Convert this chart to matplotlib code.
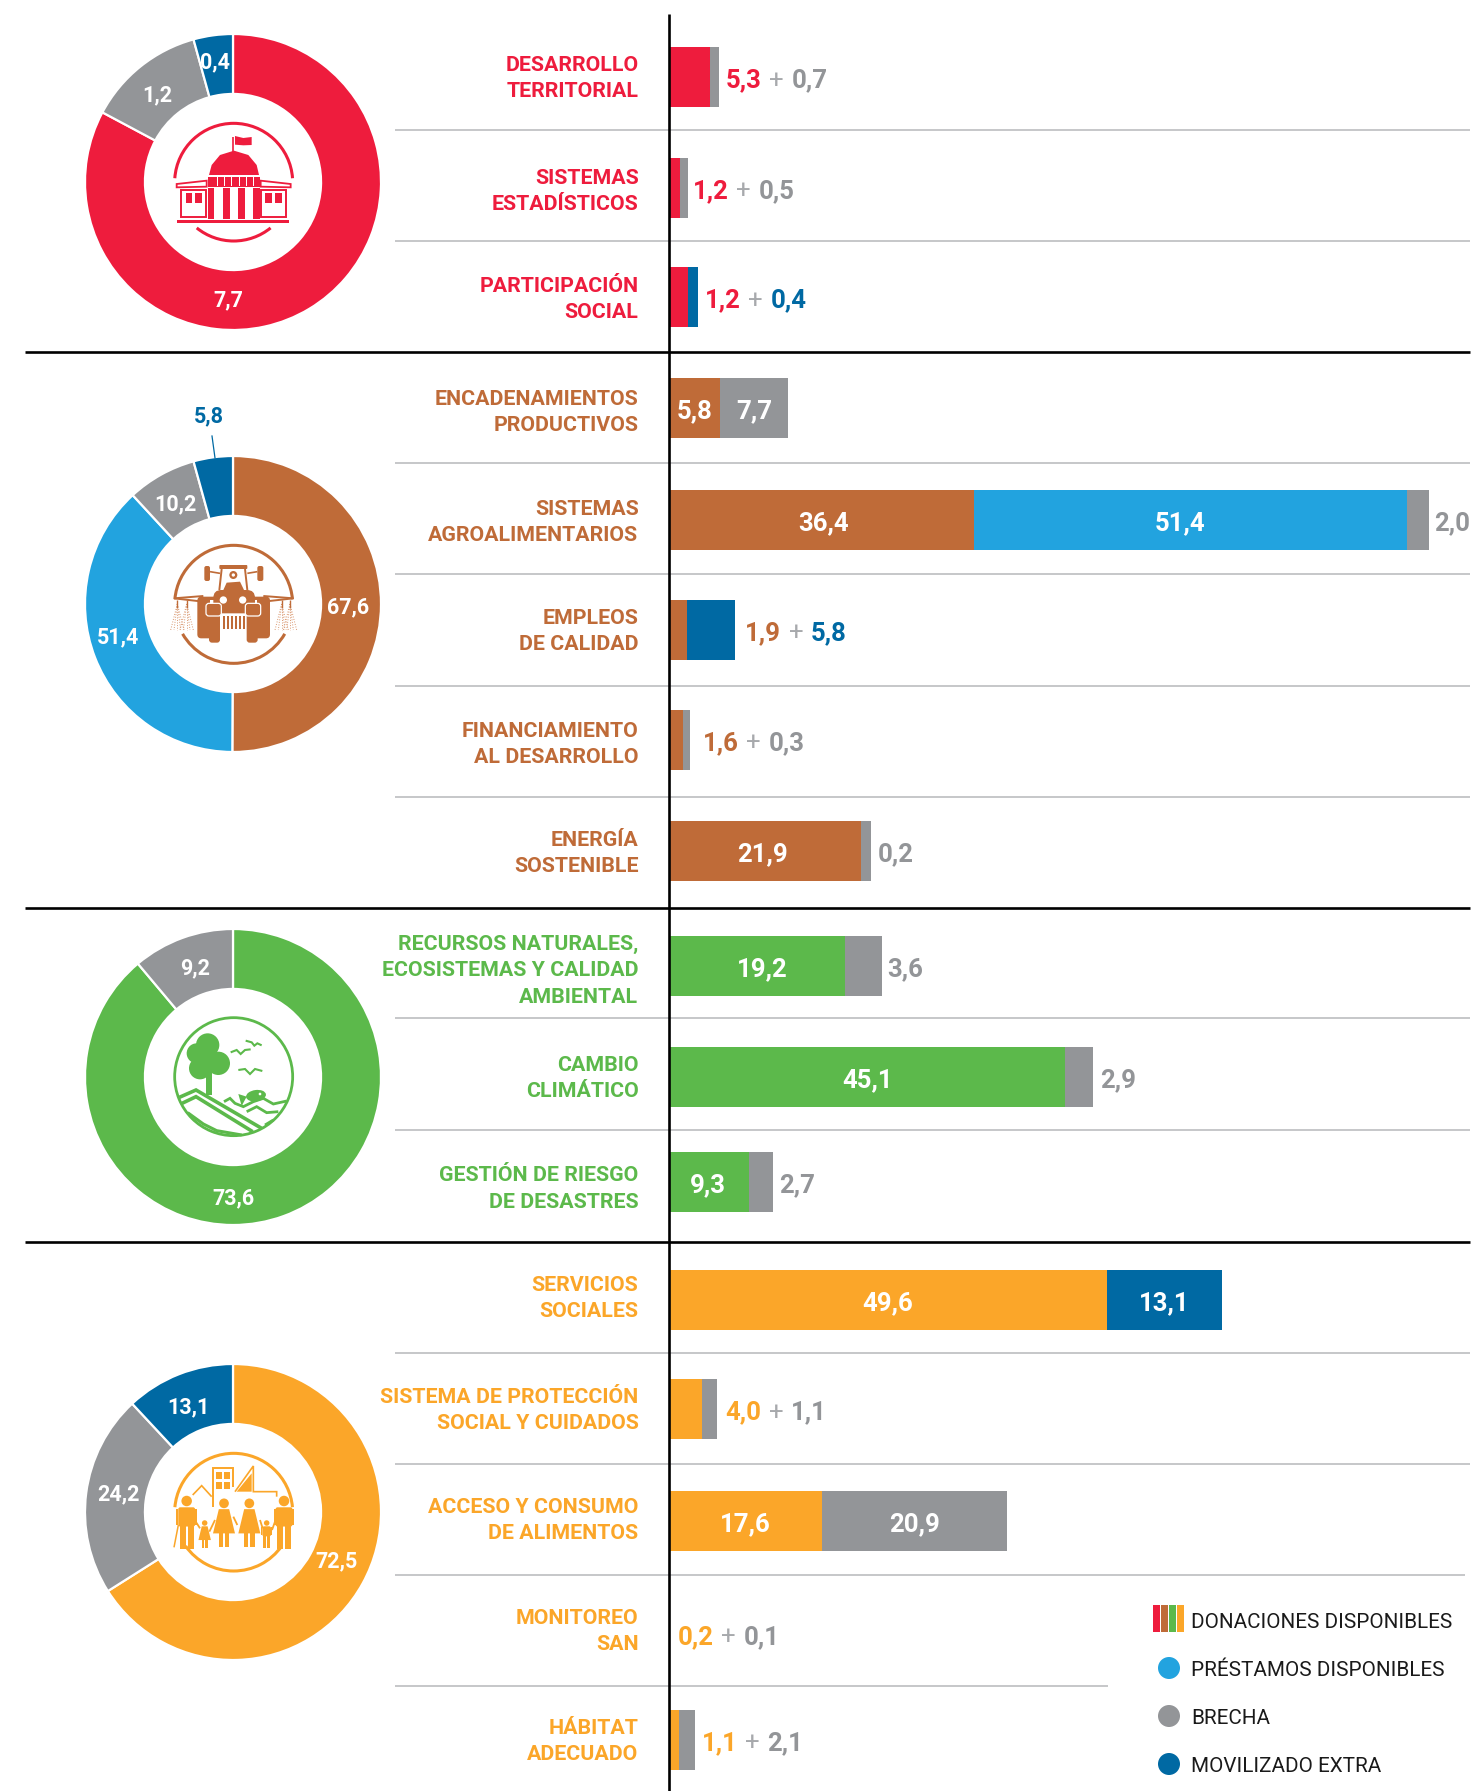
import matplotlib
matplotlib.use('Agg')
import matplotlib.pyplot as plt
from matplotlib.patches import Arc, Circle, Ellipse, FancyBboxPatch, Polygon, Rectangle

plt.rcParams['font.family'] = ['Roboto', 'DejaVu Sans']

RED = '#EE1C3D'
BROWN = '#BF6B38'
GREEN = '#5CB94B'
ORANGE = '#FBA629'
SKY = '#22A3DF'
GRAY = '#939598'
NAVY = '#0069A3'
PLUS = '#A7A9AC'
RULE = '#BCBEC0'

# donuts
donut_values = [
    [7.7, 1.2, 0.4],
    [67.6, 51.4, 10.2, 5.8],
    [73.6, 9.2],
    [72.5, 24.2, 13.1],
]
donut_colors = [
    [RED, GRAY, NAVY],
    [BROWN, SKY, GRAY, NAVY],
    [GREEN, GRAY],
    [ORANGE, GRAY, NAVY],
]
donut_texts = [
    ['7,7', '1,2', '0,4'],
    ['67,6', '51,4', '10,2', '5,8'],
    ['73,6', '9,2'],
    ['72,5', '24,2', '13,1'],
]
donut_text_pos = [
    [(228, 299), (157, 94), (215, 61)],
    [(348, 606), (118, 636), (175, 503), (209, 415)],
    [(233, 1197), (195, 967)],
    [(337, 1560), (118, 1493), (188, 1406)],
]
donut_cy = [182, 604, 1077, 1512]
donut_cx = 233
donut_r = 148

# rows of the bar panel
categories = [
    ['DESARROLLO', 'TERRITORIAL'],
    ['SISTEMAS', 'ESTADÍSTICOS'],
    ['PARTICIPACIÓN', 'SOCIAL'],
    ['ENCADENAMIENTOS', 'PRODUCTIVOS'],
    ['SISTEMAS', 'AGROALIMENTARIOS'],
    ['EMPLEOS', 'DE CALIDAD'],
    ['FINANCIAMIENTO', 'AL DESARROLLO'],
    ['ENERGÍA', 'SOSTENIBLE'],
    ['RECURSOS NATURALES,', 'ECOSISTEMAS Y CALIDAD', 'AMBIENTAL'],
    ['CAMBIO', 'CLIMÁTICO'],
    ['GESTIÓN DE RIESGO', 'DE DESASTRES'],
    ['SERVICIOS', 'SOCIALES'],
    ['SISTEMA DE PROTECCIÓN', 'SOCIAL Y CUIDADOS'],
    ['ACCESO Y CONSUMO', 'DE ALIMENTOS'],
    ['MONITOREO', 'SAN'],
    ['HÁBITAT', 'ADECUADO'],
]
row_colors = [RED] * 3 + [BROWN] * 5 + [GREEN] * 3 + [ORANGE] * 5

# bar lengths as drawn in the reference; very small parts are drawn wider than their number
donaciones = [4.9, 1.3, 2.3, 6.1, 36.3, 2.1, 1.7, 22.9, 21.0, 47.2, 9.5, 52.2, 3.9, 18.2, 0, 1.2]
prestamos = [0, 0, 0, 0, 51.6, 0, 0, 0, 0, 0, 0, 0, 0, 0, 0, 0]
brecha = [1.1, 1.0, 0, 8.1, 2.6, 0, 0.83, 1.2, 4.4, 3.3, 2.9, 0, 1.8, 22.0, 0, 1.9]
extra = [0, 0, 1.15, 0, 0, 5.7, 0, 0, 0, 0, 0, 13.6, 0, 0, 0, 0]

# printed numbers
don_text = ['5,3', '1,2', '1,2', '5,8', '36,4', '1,9', '1,6', '21,9', '19,2', '45,1', '9,3', '49,6',
            '4,0', '17,6', '0,2', '1,1']
pre_text = ['', '', '', '', '51,4', '', '', '', '', '', '', '', '', '', '', '']
bre_text = ['0,7', '0,5', '', '7,7', '2,0', '', '0,3', '0,2', '3,6', '2,9', '2,7', '', '1,1', '20,9', '0,1', '2,1']
ext_text = ['', '', '0,4', '', '', '5,8', '', '', '', '', '', '13,1', '', '', '', '']
pair_rows = [0, 1, 2, 5, 6, 12, 14, 15]

legend_labels = ['DONACIONES DISPONIBLES', 'PRÉSTAMOS DISPONIBLES', 'BRECHA', 'MOVILIZADO EXTRA']
legend_colors = [None, SKY, GRAY, NAVY]
legend_y = [1620, 1668, 1716, 1764]

# layout in pixels
row_y = [77, 188, 297, 408, 520, 630, 740, 851, 966, 1077, 1182, 1300, 1409, 1521, 1634, 1740]
label_y = [63, 176, 284, 397, 507, 616, 729, 838, 942, 1063, 1173.5, 1283, 1395, 1505, 1616, 1726]
text_x = [726, 693, 705, None, 1434, 745, 703, 878, 887, 1100, 779, None, 725, None, 678, 702]
don_shift = [0, 0, 0, 0, 2, 0, 0, -3, 5, 0, -1, -1, 0, 0, 0, 0]
rules = [(130, 1470), (241, 1470), (463, 1470), (574, 1470), (686, 1470), (797, 1470), (1018, 1470),
         (1130, 1470), (1353, 1470), (1464, 1470), (1575, 1465), (1686, 1108)]
heavy = [352, 908, 1242]

W, H = 1475, 1791
X0 = 669
PX_PER_UNIT = 8.4

fig = plt.figure(figsize=(W / 100, H / 100), dpi=100, facecolor='white')


def pixel_axes(x0, y0, x1, y1):
    return fig.add_axes([x0 / W, 1 - y1 / H, (x1 - x0) / W, (y1 - y0) / H])


# bars
ax_bar = pixel_axes(X0, 0, W, H)
ax_bar.set_xlim(0, (W - X0) / PX_PER_UNIT)
ax_bar.set_ylim(H, 0)
ax_bar.axis('off')
left = [0.0] * len(row_y)
bar_parts = [(donaciones, row_colors), (prestamos, [SKY] * 16), (brecha, [GRAY] * 16), (extra, [NAVY] * 16)]
for vals, cols in bar_parts:
    ax_bar.barh(row_y, vals, left=left, height=60, color=cols, linewidth=0)
    left = [a + b for a, b in zip(left, vals)]

# donuts
for cy, vals, cols in zip(donut_cy, donut_values, donut_colors):
    ax_d = pixel_axes(donut_cx - donut_r, cy - donut_r, donut_cx + donut_r, cy + donut_r)
    ax_d.pie(vals, colors=cols, startangle=90, counterclock=False, radius=1,
             wedgeprops={'width': 0.405, 'edgecolor': 'white', 'linewidth': 1.6})
    ax_d.set_xlim(-1, 1)
    ax_d.set_ylim(-1, 1)

# everything else goes on a pixel overlay
ax = pixel_axes(0, 0, W, H)
ax.set_xlim(0, W)
ax.set_ylim(H, 0)
ax.axis('off')
ax.patch.set_alpha(0)


def put(x, y, s, color, size=18, ha='left', weight='bold', cap=13):
    # y is the centre of the capitals
    return ax.text(x, y + cap / 2, s, color=color, fontsize=size, ha=ha, va='baseline', fontweight=weight)


for y, x1 in rules:
    ax.plot([395, x1], [y, y], color=RULE, lw=1.2, solid_capstyle='butt')
for y in heavy:
    ax.plot([25, 1470], [y, y], color='black', lw=1.9, solid_capstyle='butt')
ax.plot([669, 669], [14, H], color='black', lw=1.9, solid_capstyle='butt')

# row labels
for lines, y0, col in zip(categories, label_y, row_colors):
    for k, line_text in enumerate(lines):
        put(638.5, y0 + k * 26.5, line_text, col, size=15.4, ha='right', cap=15.7)

# bar numbers
renderer = fig.canvas.get_renderer()
for i in range(len(row_y)):
    if i in pair_rows:
        second = bre_text[i] if bre_text[i] else ext_text[i]
        second_col = GRAY if bre_text[i] else NAVY
        x = text_x[i]
        t = put(x, row_y[i] + 1.5, don_text[i], row_colors[i], size=18.5, cap=18)
        x += t.get_window_extent(renderer).width + 7.5
        t = put(x, row_y[i] + 1.5, '+', PLUS, size=18.5, weight='normal', cap=18)
        x += t.get_window_extent(renderer).width + 7.5
        put(x, row_y[i] + 1.5, second, second_col, size=18.5, cap=18)
        continue
    start = X0
    for vals, txt, shift in [(donaciones, don_text, don_shift[i]), (prestamos, pre_text, -11),
                             (brecha, bre_text, 0), (extra, ext_text, 0)]:
        width = vals[i] * PX_PER_UNIT
        if txt[i]:
            if vals[i] > 5:
                put(start + width / 2 + shift, row_y[i] + 1, txt[i], 'white', size=18.5, ha='center', cap=18)
            else:
                put(text_x[i], row_y[i] + 1, txt[i], GRAY, size=18.5, cap=18)
        start += width

# donut numbers
for texts, poss, cols in zip(donut_texts, donut_text_pos, donut_colors):
    for s, (x, y) in zip(texts, poss):
        col = NAVY if s == '5,8' else 'white'
        put(x, y, s, col, size=15.5, ha='center', cap=15)
ax.plot([212, 215], [436, 458], color=NAVY, lw=0.9)


# icons, coordinates taken from 3x crops
def crop(ox, oy):
    return lambda x, y: (ox + x / 3, oy + y / 3)


def box(P, x0, y0, x1, y1, **kw):
    ax.add_patch(Rectangle(P(x0, y0), (x1 - x0) / 3, (y1 - y0) / 3, linewidth=kw.pop('lw', 0), **kw))


def rbox(P, x0, y0, x1, y1, col, rad=3, ec='none', lw=0.0):
    ax.add_patch(FancyBboxPatch(P(x0, y0), (x1 - x0) / 3, (y1 - y0) / 3,
                                boxstyle='round,pad=0,rounding_size=%s' % rad, fc=col, ec=ec, lw=lw))


def line(P, pts, col, lw=1.5, ls='-'):
    xs, ys = zip(*[P(*p) for p in pts])
    ax.plot(xs, ys, color=col, lw=lw, ls=ls, solid_capstyle='butt', solid_joinstyle='miter')


def blob(P, x, y, r, col):
    ax.add_patch(Circle(P(x, y), r / 3, fc=col, ec='none'))


def ring(P, x, y, r, col, t1=0, t2=360, lw=1.8):
    # inverted y axis: angles run clockwise on screen
    ax.add_patch(Arc(P(x, y), 2 * r / 3, 2 * r / 3, theta1=t1, theta2=t2, color=col, lw=lw))


def capitol():
    P = crop(60, 10)
    c = RED
    ring(P, 521, 517, 177, c, 184, 356, lw=2.2)
    ring(P, 521, 517, 176, c, 51, 129, lw=2.2)
    ax.add_patch(Polygon([P(447, 495), P(455, 465), P(480, 435), P(522, 422), P(565, 435), P(590, 465),
                          P(597, 495)], fc=c, ec='none'))
    line(P, [(520, 380), (520, 425)], c, 1.2)
    ax.add_patch(Polygon([P(525, 378), P(550, 384), P(575, 381), P(575, 405), P(550, 406), P(525, 404)],
                         fc=c, ec='none'))
    box(P, 445, 500, 600, 530, fc=c)
    for x in [470, 492, 514, 536, 558, 578]:
        box(P, x, 502, x + 3, 528, fc='white')
    for x0, x1 in [(445, 462), (488, 510), (533, 555), (578, 600)]:
        box(P, x0, 535, x1, 626, fc=c)
    box(P, 350, 630, 687, 640, fc=c)
    for sign in [0, 1]:
        mx = (lambda x: x) if sign == 0 else (lambda x: 1042 - x)
        ax.add_patch(Polygon([P(mx(350), 522), P(mx(440), 512), P(mx(440), 530), P(mx(350), 532)],
                             fc='white', ec=c, lw=1.3))
        line(P, [(mx(364), 536), (mx(364), 622), (mx(438), 622), (mx(438), 540), (mx(364), 540)], c, 1.4)
        box(P, min(mx(377), mx(397)), 550, max(mx(377), mx(397)), 578, fc=c)
        box(P, min(mx(405), mx(427)), 550, max(mx(405), mx(427)), 578, fc=c)


def tractor():
    P = crop(60, 400)
    c = BROWN
    ring(P, 521, 613, 177, c, 185, 355, lw=2.2)
    ring(P, 521, 613, 177, c, 30, 150, lw=2.2)
    # sprays
    for x in [352, 380, 665, 690]:
        for dx in [-20, -10, 0, 10, 20]:
            line(P, [(x, 612), (x + dx, 690)], '#D9976F', 0.7, ':')
        line(P, [(x, 600), (x, 625)], c, 1.0)
    # rear wheels and body
    rbox(P, 412, 590, 630, 715, c, 4)
    box(P, 450, 600, 590, 720, fc='white')
    # boom
    line(P, [(342, 595), (430, 605)], c, 1.4)
    line(P, [(342, 595), (430, 588)], c, 1.4)
    line(P, [(610, 605), (700, 595)], c, 1.4)
    line(P, [(610, 588), (700, 595)], c, 1.4)
    # hood and cab
    rbox(P, 460, 570, 585, 640, c, 8)
    rbox(P, 478, 495, 562, 507, c, 1)
    line(P, [(485, 507), (478, 570)], c, 1.4)
    line(P, [(555, 507), (562, 570)], c, 1.4)
    blob(P, 520, 525, 12, c)
    blob(P, 520, 525, 5, 'white')
    ax.add_patch(Polygon([P(490, 570), P(500, 548), P(540, 545), P(552, 570)], fc=c, ec='none'))
    # mirrors
    rbox(P, 433, 498, 450, 543, c, 2)
    rbox(P, 592, 498, 610, 543, c, 2)
    line(P, [(450, 515), (480, 520)], c, 1.2)
    line(P, [(562, 520), (592, 515)], c, 1.2)
    blob(P, 490, 600, 11, 'white')
    blob(P, 548, 600, 11, 'white')
    # front wheels and fenders
    rbox(P, 447, 620, 480, 728, c, 3)
    rbox(P, 560, 620, 593, 728, c, 3)
    rbox(P, 438, 610, 484, 648, c, 3, ec='white', lw=0.9)
    rbox(P, 556, 610, 602, 648, c, 3, ec='white', lw=0.9)
    box(P, 484, 648, 556, 690, fc='white')
    for x in range(490, 555, 12):
        box(P, x, 648, x + 6, 688, fc=c)


def landscape():
    P = crop(60, 920)
    c = GREEN
    ring(P, 521, 470, 177, c, 0, 360, lw=2)
    for x, y, r in [(443, 375, 35), (410, 400, 30), (475, 430, 35), (420, 445, 33), (445, 420, 35)]:
        blob(P, x, y, r, c)
    box(P, 437, 450, 455, 525, fc=c)
    for pts in [[(512, 397), (530, 390), (542, 402), (555, 390), (572, 388)],
                [(557, 362), (575, 367), (583, 377), (592, 370), (605, 376)],
                [(535, 450), (555, 447), (570, 462), (585, 447), (607, 453)]]:
        line(P, pts, c, 1.5)
    line(P, [(358, 532), (408, 510), (605, 625)], c, 2.6)
    line(P, [(362, 552), (408, 530), (578, 635)], c, 2.6)
    line(P, [(383, 578), (430, 612), (470, 632), (545, 645)], c, 2.2)
    ax.add_patch(Ellipse(P(588, 527), 60 / 3, 34 / 3, angle=-8, fc=c, ec='none'))
    blob(P, 600, 522, 4, 'white')
    ax.add_patch(Polygon([P(560, 530), P(535, 522), P(545, 558)], fc=c, ec='none'))
    line(P, [(492, 545), (510, 535), (525, 550), (550, 560), (580, 545), (610, 535), (640, 552), (680, 543)], c, 2)
    line(P, [(560, 575), (590, 560), (620, 578), (655, 575)], c, 2)
    line(P, [(615, 615), (640, 600)], c, 2)


def person(P, x, head_y, scale, col, dress=False):
    blob(P, x, head_y, 15 * scale, col)
    top = head_y + 18 * scale
    if dress:
        ax.add_patch(Polygon([P(x - 16 * scale, top), P(x + 16 * scale, top), P(x + 34 * scale, top + 75 * scale),
                              P(x - 34 * scale, top + 75 * scale)], fc=col, ec='none'))
        box(P, x - 16 * scale, top + 70 * scale, x - 3 * scale, top + 118 * scale, fc=col)
        box(P, x + 3 * scale, top + 70 * scale, x + 16 * scale, top + 118 * scale, fc=col)
    else:
        rbox(P, x - 24 * scale, top, x + 24 * scale, top + 55 * scale, col, 2)
        box(P, x - 30 * scale, top + 5 * scale, x - 24 * scale, top + 50 * scale, fc=col)
        box(P, x + 24 * scale, top + 5 * scale, x + 30 * scale, top + 50 * scale, fc=col)
        box(P, x - 20 * scale, top + 50 * scale, x - 3 * scale, top + 118 * scale, fc=col)
        box(P, x + 3 * scale, top + 50 * scale, x + 20 * scale, top + 118 * scale, fc=col)


def family():
    P = crop(60, 1340)
    c = ORANGE
    ring(P, 521, 517, 177, c, 185, 355, lw=2.2)
    ring(P, 521, 517, 176, c, 35, 145, lw=2.2)
    line(P, [(398, 465), (425, 437), (455, 470)], c, 1.2)
    line(P, [(458, 500), (458, 385), (518, 385), (518, 440)], c, 1.4)
    for x in [468, 492]:
        for y in [397, 427]:
            box(P, x, y, x + 18, y + 20, fc=c)
    line(P, [(525, 455), (580, 378), (580, 455), (650, 455), (650, 470)], c, 1.2)
    ax.add_patch(Polygon([P(530, 455), P(575, 400), P(575, 455)], fc=c, ec='none'))
    person(P, 380, 483, 1.05, c)
    person(P, 492, 490, 0.97, c, dress=True)
    person(P, 568, 490, 0.97, c, dress=True)
    person(P, 672, 483, 1.05, c)
    person(P, 434, 549, 0.55, c, dress=True)
    person(P, 620, 549, 0.55, c)
    line(P, [(355, 555), (342, 622)], c, 1.1)
    line(P, [(404, 540), (420, 565)], c, 1.3)
    line(P, [(448, 575), (465, 540)], c, 1.3)
    line(P, [(520, 530), (532, 555)], c, 1.3)
    line(P, [(600, 540), (608, 565)], c, 1.3)
    line(P, [(636, 570), (645, 545)], c, 1.3)


capitol()
tractor()
landscape()
family()

# legend
for k, col in enumerate([RED, BROWN, GREEN, ORANGE]):
    ax.add_patch(Rectangle((1153 + k * 7.9, 1605), 7, 27, fc=col, ec='none'))
for lab, col, y in zip(legend_labels, legend_colors, legend_y):
    if col:
        ax.add_patch(Circle((1169, y if y != 1620 else 1620), 11, fc=col, ec='none'))
    put(1191, y, lab, '#1A1A1A', size=14.85, weight='normal', cap=16.7)

fig.savefig('out.png', dpi=100)
